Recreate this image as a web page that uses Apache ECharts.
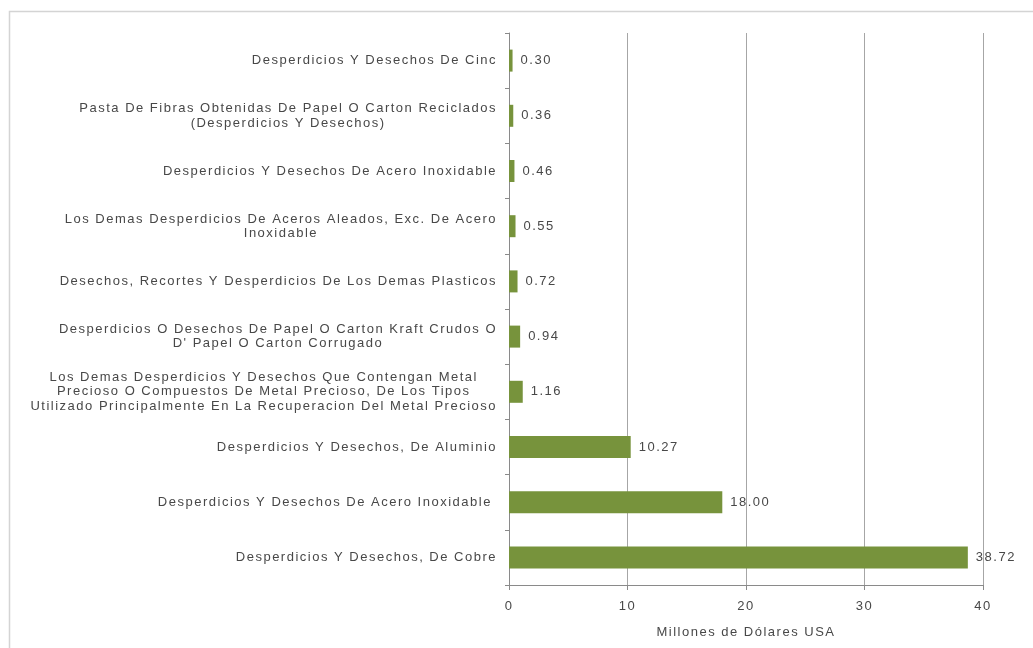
<!DOCTYPE html>
<html><head><meta charset="utf-8">
<script src="https://cdn.jsdelivr.net/npm/echarts@6/dist/echarts.min.js"></script>
<style>html,body{margin:0;padding:0;background:#fff}#c{width:1033px;height:648px}</style>
</head><body><div id="c"></div>
<script>
// widen text spacing to match the stretched look of the reference labels
(function () {
  const proto = CanvasRenderingContext2D.prototype;
  const d = Object.getOwnPropertyDescriptor(proto, 'font');
  if (d && 'letterSpacing' in proto) {
    Object.defineProperty(proto, 'font', {
      configurable: true,
      get: function () { return d.get.call(this); },
      set: function (v) { d.set.call(this, v); this.letterSpacing = '1.5px'; }
    });
  }
})();

const categories = [
  "Desperdicios Y Desechos De Cinc",
  "Pasta De Fibras Obtenidas De Papel O Carton Reciclados\n(Desperdicios Y Desechos)",
  "Desperdicios Y Desechos De Acero Inoxidable",
  "Los Demas Desperdicios De Aceros Aleados, Exc. De Acero\nInoxidable",
  "Desechos, Recortes Y Desperdicios De Los Demas Plasticos",
  "Desperdicios O Desechos De Papel O Carton Kraft Crudos O\nD' Papel O Carton Corrugado",
  "Los Demas Desperdicios Y Desechos Que Contengan Metal\nPrecioso O Compuestos De Metal Precioso, De Los Tipos\nUtilizado Principalmente En La Recuperacion Del Metal Precioso",
  "Desperdicios Y Desechos, De Aluminio",
  "Desperdicios Y Desechos De Acero Inoxidable ",
  "Desperdicios Y Desechos, De Cobre"
];
const values = [0.30, 0.36, 0.46, 0.55, 0.72, 0.94, 1.16, 10.27, 18.00, 38.72];
const xTicks = [0, 10, 20, 30, 40];
const axisTitle = "Millones de Dólares USA";

const chart = echarts.init(document.getElementById('c'), null, {renderer: 'canvas'});
const txt = '#484848';
const font = '"Liberation Sans", Arial, sans-serif';
const fs = 13;
const lh = 14.5;
chart.setOption({
  animation: false,
  graphic: [{
    type: 'rect', shape: {x: 9.5, y: 11.5, width: 1100, height: 700},
    style: {fill: 'none', stroke: '#d4d4d4', lineWidth: 1.5}, silent: true, z: -1
  }],
  grid: {left: 509, right: 50, top: 33, bottom: 63, containLabel: false},
  xAxis: {
    type: 'value', min: xTicks[0], max: xTicks[xTicks.length - 1], interval: 10,
    name: axisTitle, nameLocation: 'middle', nameGap: 40,
    nameTextStyle: {color: txt, fontSize: fs, fontFamily: font},
    axisLine: {show: true, lineStyle: {color: '#8a8a8a'}},
    axisTick: {show: true, length: 5, lineStyle: {color: '#8a8a8a'}},
    axisLabel: {color: txt, fontSize: fs, fontFamily: font, margin: 14},
    splitLine: {show: true, lineStyle: {color: '#a6a6a6'}}
  },
  yAxis: {
    type: 'category', data: categories, inverse: true,
    axisLine: {show: true, lineStyle: {color: '#8a8a8a'}},
    axisTick: {show: true, length: 4, lineStyle: {color: '#8a8a8a'}},
    axisLabel: {
      color: txt, fontSize: fs, fontFamily: font, margin: 12, lineHeight: lh,
      formatter: function (v) {
        return v.split('\n').map(function (l) { return '{c|' + l + '}'; }).join('\n');
      },
      rich: {c: {align: 'center', color: txt, fontSize: fs, fontFamily: font, lineHeight: lh}}
    }
  },
  series: [{
    type: 'bar', data: values, barWidth: 22,
    itemStyle: {color: '#77933C'},
    label: {
      show: true, position: 'right', distance: 8, color: txt, fontSize: fs, fontFamily: font,
      formatter: function (p) { return p.value.toFixed(2); }
    }
  }]
});
</script></body></html>
